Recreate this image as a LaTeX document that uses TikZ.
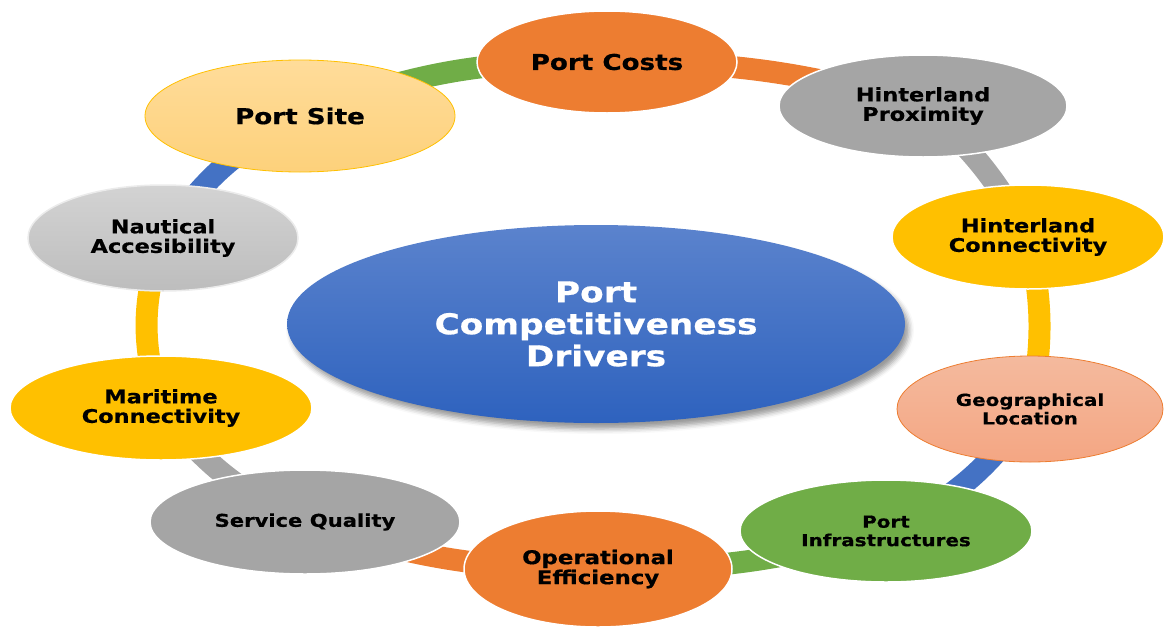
\documentclass[tikz,border=0pt]{standalone}
\usepackage{fontspec}
\newfontfamily\labelfont{DejaVu Sans}[FakeStretch=1.2, BoldFeatures={FakeBold=0.6}]
\usetikzlibrary{shapes.geometric}
\usetikzlibrary{shadows.blur}
\usetikzlibrary{backgrounds}

\definecolor{drvorange}{HTML}{ED7D31}
\definecolor{drvgray}{HTML}{A5A5A5}
\definecolor{drvyellow}{HTML}{FFC000}
\definecolor{drvblue}{HTML}{4472C4}
\definecolor{drvgreen}{HTML}{70AD47}

\begin{document}
\begin{tikzpicture}[x=1pt, y=1pt,
    driver/.style={ellipse, draw=white, line width=1.5pt, inner sep=0pt, align=center,
      font=\labelfont\bfseries\fontsize{18.7}{19.5}\selectfont},
    big/.style={font=\labelfont\bfseries\fontsize{21.8}{23}\selectfont},
    small/.style={font=\labelfont\bfseries\fontsize{16.6}{18.5}\selectfont},
    link/.style={line width=22pt, draw=#1}]
    \useasboundingbox (0,0) rectangle (1164,-629);

    \node[ellipse, inner sep=0pt, minimum width=618, minimum height=198,
      top color={rgb,255:red,91;green,131;blue,205}, bottom color={rgb,255:red,46;green,98;blue,190},
      blur shadow={shadow xshift=4pt, shadow yshift=-6pt, shadow blur radius=5pt, shadow opacity=40},
      text=white, align=center, font=\labelfont\bfseries\fontsize{28.6}{32}\selectfont]
      (hub) at (596,-324) {Port\\Competitiveness\\Drivers};

    \node[driver, big, fill=drvorange, minimum width=260, minimum height=102] (costs) at (607,-62) {Port Costs};
    \node[driver, big, draw=drvyellow, line width=0.8pt, minimum width=310, minimum height=112,
      top color={rgb,255:red,255;green,220;blue,154}, bottom color={rgb,255:red,253;green,209;blue,123}]
      (site) at (300,-116) {Port Site};
    \node[driver, fill=drvgray, minimum width=288, minimum height=102] (proximity) at (923,-106) {Hinterland\\Proximity};
    \node[driver, draw={rgb,255:red,235;green,235;blue,235}, minimum width=270, minimum height=106,
      top color={rgb,255:red,211;green,211;blue,211}, bottom color={rgb,255:red,189;green,189;blue,189}]
      (nautical) at (163,-238) {Nautical\\Accesibility};
    \node[driver, fill=drvyellow, minimum width=272, minimum height=104] (hinterland) at (1028,-237) {Hinterland\\Connectivity};
    \node[driver, fill=drvyellow, minimum width=302, minimum height=104] (maritime) at (161,-408) {Maritime\\Connectivity};
    \node[driver, small, draw=drvorange, line width=0.8pt, minimum width=266, minimum height=106,
      top color={rgb,255:red,244;green,186;blue,158}, bottom color={rgb,255:red,244;green,166;blue,131}]
      (location) at (1030,-409) {Geographical\\Location};
    \node[driver, fill=drvgray, font=\labelfont\bfseries\fontsize{17.6}{19}\selectfont,
      minimum width=310, minimum height=104] (service) at (305,-522) {Service Quality};
    \node[driver, small, fill=drvgreen, minimum width=292, minimum height=102] (infra) at (886,-531) {Port\\Infrastructures};
    \node[driver, fill=drvorange, font=\labelfont\bfseries\fontsize{19}{20}\selectfont,
      minimum width=268, minimum height=116] (operational) at (598,-569) {Operational\\Efficiency};

    % ring of bands behind the ellipses, clockwise from the top left
    \begin{scope}[on background layer]
      \draw[link=drvgreen] (site.center) to[bend left=11] (costs.center);
      \draw[link=drvorange] (costs.center) to[bend left=8] (proximity.center);
      \draw[link=drvgray] (proximity.center) to[bend left=10] (hinterland.center);
      \draw[link=drvyellow] (hinterland.center) to[bend left=12] (location.center);
      \draw[link=drvblue] (location.center) to[bend left=15] (infra.center);
      \draw[link=drvgreen] (infra.center) to[bend left=8] (operational.center);
      \draw[link=drvorange] (operational.center) to[bend left=9] (service.center);
      \draw[link=drvgray] (service.center) to[bend left=14] (maritime.center);
      \draw[link=drvyellow] (maritime.center) to[bend left=18] (nautical.center);
      \draw[link=drvblue] (nautical.center) to[bend left=14] (site.center);
    \end{scope}
\end{tikzpicture}
\end{document}
